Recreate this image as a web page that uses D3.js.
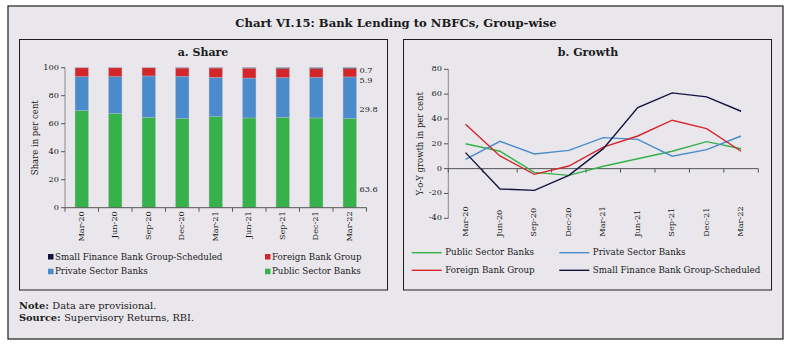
<!DOCTYPE html>
<html>
<head>
<meta charset="utf-8">
<script src="https://cdn.jsdelivr.net/npm/d3@7"></script>
<style>
  body { margin: 0; background: #fff; }
  text { font-family: "DejaVu Serif", serif; fill: #1a1a1a; }
</style>
</head>
<body>
<div id="chart"></div>
<script>
// ----- data -----
const quarters = ["Mar-20", "Jun-20", "Sep-20", "Dec-20", "Mar-21", "Jun-21", "Sep-21", "Dec-21", "Mar-22"]
const groups = ["Public Sector Banks", "Private Sector Banks", "Foreign Bank Group", "Small Finance Bank Group-Scheduled"]

// share in per cent
const sharePublic  = [69.3, 67.4, 64.6, 63.6, 65.0, 64.1, 64.6, 64.1, 63.6]
const sharePrivate = [24.3, 26.2, 29.5, 30.2, 28.1, 28.5, 28.3, 29.0, 29.8]
const shareForeign = [6.3, 6.3, 5.8, 6.0, 6.7, 7.1, 6.5, 6.3, 5.9]
const shareSmall   = [0.1, 0.1, 0.1, 0.2, 0.2, 0.3, 0.6, 0.6, 0.7]
const lastLabels = ["63.6", "29.8", "5.9", "0.7"]
const lastLabelAt = [12.5, 69.6, 90.3, 97.5]

// y-o-y growth in per cent
const growthPublic  = [20, 14, -3, -5.4, 1.9, 8, 14, 21.7, 16]
const growthPrivate = [7.5, 22, 11.8, 14.7, 25, 23.6, 10, 15.3, 26.3]
const growthForeign = [35.7, 10.2, -4.6, 2.1, 17.4, 26.3, 39, 32.2, 14]
const growthSmall   = [12.9, -16.4, -17.5, -5.4, 16.1, 49.2, 61, 57.8, 46.2]

const shareTicks = [0, 20, 40, 60, 80, 100]
const growthTicks = [-40, -20, 0, 20, 40, 60, 80]

const colors = ["#35b24a", "#4a8bcb", "#d3262b", "#12143f"]

// ----- frame -----
const width = 791, height = 351
const svg = d3.select("#chart").append("svg")
    .attr("width", width)
    .attr("height", height)

svg.append("rect")
    .attr("x", 8).attr("y", 6).attr("width", 775).attr("height", 333)
    .attr("fill", "#e9e7ec").attr("stroke", "#1e1e1e").attr("stroke-width", 1.2)

svg.append("text")
    .attr("x", 396).attr("y", 24)
    .attr("text-anchor", "middle").attr("dominant-baseline", "middle")
    .attr("font-size", 11.6).attr("font-weight", "bold")
    .text("Chart VI.15: Bank Lending to NBFCs, Group-wise")

// panels
const panels = [[19.5, 39.5, 368, 250.5], [403.5, 39.5, 368, 250.5]]
panels.forEach(p => {
    svg.append("rect")
        .attr("x", p[0]).attr("y", p[1]).attr("width", p[2]).attr("height", p[3])
        .attr("fill", "none").attr("stroke", "#1e1e1e").attr("stroke-width", 1)
})

// notes
const note = svg.append("text").attr("x", 19).attr("y", 306)
    .attr("font-size", 9.8).attr("dominant-baseline", "middle")
note.append("tspan").attr("font-weight", "bold").text("Note: ")
note.append("tspan").text("Data are provisional.")
const src = svg.append("text").attr("x", 19).attr("y", 318)
    .attr("font-size", 9.8).attr("dominant-baseline", "middle")
src.append("tspan").attr("font-weight", "bold").text("Source: ")
src.append("tspan").text("Supervisory Returns, RBI.")

/*----- a. Share -----*/
const ga = svg.append("g")
ga.append("text")
    .attr("x", 203).attr("y", 53)
    .attr("text-anchor", "middle").attr("dominant-baseline", "middle")
    .attr("font-size", 11).attr("font-weight", "bold")
    .text("a. Share")

const xa = d3.scaleBand().domain(quarters).range([65, 366.5]).paddingInner(0.6).paddingOuter(0.3)
const ya = d3.scaleLinear().domain([0, 100]).range([207.7, 67.7])

const shareRows = quarters.map((q, i) => ({
    q: q,
    [groups[0]]: sharePublic[i],
    [groups[1]]: sharePrivate[i],
    [groups[2]]: shareForeign[i],
    [groups[3]]: shareSmall[i]
}))
const stacked = d3.stack().keys(groups)(shareRows)

ga.selectAll("g.series")
    .data(stacked)
    .join("g")
    .attr("fill", (d, i) => colors[i])
    .selectAll("rect")
    .data(d => d)
    .join("rect")
    .attr("x", d => xa(d.data.q))
    .attr("y", d => ya(d[1]))
    .attr("width", xa.bandwidth())
    .attr("height", d => ya(d[0]) - ya(d[1]))
    .attr("stroke", "#b9b9c4")
    .attr("stroke-width", 0.4)

// y axis
ga.append("line")
    .attr("x1", 65).attr("x2", 65).attr("y1", ya(0)).attr("y2", ya(100))
    .attr("stroke", "#8a8a8a")
shareTicks.forEach(t => {
    ga.append("line")
        .attr("x1", 61).attr("x2", 65).attr("y1", ya(t)).attr("y2", ya(t))
        .attr("stroke", "#555")
    ga.append("text")
        .attr("x", 59).attr("y", ya(t))
        .attr("text-anchor", "end").attr("dominant-baseline", "middle")
        .attr("font-size", 8.2)
        .text(t)
})
ga.append("text")
    .attr("transform", `translate(35,${(ya(0) + ya(100)) / 2}) rotate(-90)`)
    .attr("text-anchor", "middle").attr("dominant-baseline", "middle")
    .attr("font-size", 8.5)
    .text("Share in per cent")

// x axis
ga.append("line")
    .attr("x1", xa.range()[0]).attr("x2", xa.range()[1]).attr("y1", ya(0)).attr("y2", ya(0))
    .attr("stroke", "#555")
d3.range(quarters.length + 1).forEach(i => {
    const xt = xa.range()[0] + i * xa.step()
    ga.append("line")
        .attr("x1", xt).attr("x2", xt).attr("y1", ya(0)).attr("y2", ya(0) + 4)
        .attr("stroke", "#555")
})
quarters.forEach(q => {
    ga.append("text")
        .attr("transform", `translate(${xa(q) + xa.bandwidth() / 2},${ya(0) + 3.5}) rotate(-90)`)
        .attr("text-anchor", "end").attr("dominant-baseline", "middle")
        .attr("font-size", 8.2)
        .text(q)
})

// labels for the last bar
lastLabels.forEach((l, i) => {
    ga.append("text")
        .attr("x", xa(quarters[quarters.length - 1]) + xa.bandwidth() + 3)
        .attr("y", ya(lastLabelAt[i]))
        .attr("dominant-baseline", "middle")
        .attr("font-size", 8.2)
        .text(l)
})

// legend a
const legA = [[3, 48, 257], [2, 265, 257], [1, 48, 271.7], [0, 265, 271.7]]
legA.forEach(([k, lx, ly]) => {
    ga.append("rect")
        .attr("x", lx).attr("y", ly - 3).attr("width", 5.5).attr("height", 5.5)
        .attr("fill", colors[k])
    ga.append("text")
        .attr("x", lx + 7).attr("y", ly)
        .attr("dominant-baseline", "middle")
        .attr("font-size", 8.7)
        .text(groups[k])
})

/*----- b. Growth -----*/
const gb = svg.append("g")
gb.append("text")
    .attr("x", 588).attr("y", 53)
    .attr("text-anchor", "middle").attr("dominant-baseline", "middle")
    .attr("font-size", 11).attr("font-weight", "bold")
    .text("b. Growth")

const xb = d3.scalePoint().domain(quarters).range([448.3, 758.3]).padding(0.5)
const stepB = (758.3 - 448.3) / quarters.length
const yb = d3.scaleLinear().domain([-40, 80]).range([218.3, 69.3])

// y axis
gb.append("line")
    .attr("x1", 448.3).attr("x2", 448.3).attr("y1", yb(-40)).attr("y2", yb(80))
    .attr("stroke", "#8a8a8a")
growthTicks.forEach(t => {
    gb.append("line")
        .attr("x1", 444).attr("x2", 448.3).attr("y1", yb(t)).attr("y2", yb(t))
        .attr("stroke", "#555")
    gb.append("text")
        .attr("x", 442).attr("y", yb(t))
        .attr("text-anchor", "end").attr("dominant-baseline", "middle")
        .attr("font-size", 8.2)
        .text(t)
})
gb.append("text")
    .attr("transform", `translate(420,${(yb(-40) + yb(80)) / 2}) rotate(-90)`)
    .attr("text-anchor", "middle").attr("dominant-baseline", "middle")
    .attr("font-size", 8.5)
    .text("Y-o-Y growth in per cent")

// x axis at zero
gb.append("line")
    .attr("x1", 448.3).attr("x2", 758.3).attr("y1", yb(0)).attr("y2", yb(0))
    .attr("stroke", "#555")
d3.range(quarters.length + 1).forEach(i => {
    const xt = 448.3 + i * stepB
    gb.append("line")
        .attr("x1", xt).attr("x2", xt).attr("y1", yb(0)).attr("y2", yb(0) + 4)
        .attr("stroke", "#555")
})
quarters.forEach(q => {
    gb.append("text")
        .attr("transform", `translate(${xb(q)},236.7) rotate(-90)`)
        .attr("text-anchor", "start").attr("dominant-baseline", "middle")
        .attr("font-size", 8.2)
        .text(q)
})

const growthSeries = [growthPublic, growthPrivate, growthForeign, growthSmall]
const line = d3.line()
    .x((d, i) => xb(quarters[i]))
    .y(d => yb(d))

gb.selectAll("path.series")
    .data(growthSeries)
    .join("path")
    .attr("class", "series")
    .attr("d", d => line(d))
    .attr("fill", "none")
    .attr("stroke", (d, i) => colors[i])
    .attr("stroke-width", 1.4)

// legend b
const legB = [[0, 411.7, 252.7], [1, 559.3, 252.7], [2, 411.7, 270.3], [3, 559.3, 270.3]]
legB.forEach(([k, lx, ly]) => {
    gb.append("line")
        .attr("x1", lx).attr("x2", lx + 30).attr("y1", ly).attr("y2", ly)
        .attr("stroke", colors[k]).attr("stroke-width", 1.4)
    gb.append("text")
        .attr("x", lx + 33.5).attr("y", ly)
        .attr("dominant-baseline", "middle")
        .attr("font-size", 8.7)
        .text(groups[k])
})
</script>
</body>
</html>
